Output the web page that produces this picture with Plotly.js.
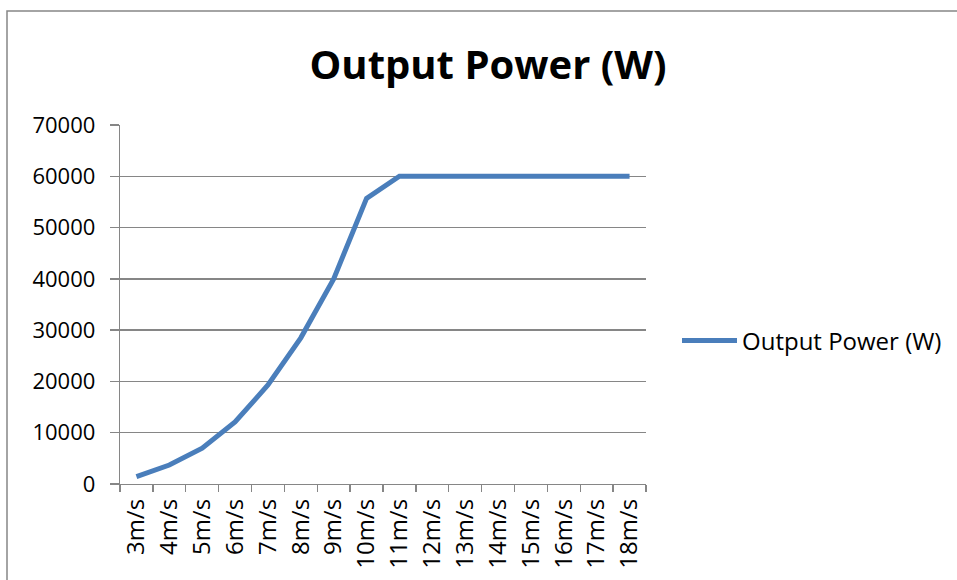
<!DOCTYPE html>
<html>
<head>
<meta charset="utf-8">
<script src="https://cdn.plot.ly/plotly-3.0.1.min.js"></script>
<style>html,body{margin:0;padding:0;background:#fff;}#chart{width:957px;height:580px;}</style>
</head>
<body>
<div id="chart"></div>
<script>
var categories = ["3m/s","4m/s","5m/s","6m/s","7m/s","8m/s","9m/s","10m/s","11m/s","12m/s","13m/s","14m/s","15m/s","16m/s","17m/s","18m/s"];
var outputPower = [1450, 3700, 7000, 12100, 19300, 28500, 40000, 55700, 60000, 60000, 60000, 60000, 60000, 60000, 60000, 60000];
var seriesName = "Output Power (W)";
var yTicks = [0, 10000, 20000, 30000, 40000, 50000, 60000, 70000];

var W = 957, H = 580;
var mL = 120, mR = 311, mT = 125, mB = 96;
var pw = W - mL - mR, ph = H - mT - mB;
function px(x){ return (x - mL) / pw; }
function py(y){ return (H - mB - y) / ph; }

var font = "Open Sans, Noto Sans, sans-serif";
var grid = "#868686";

var trace = {
  x: categories, y: outputPower, type: "scatter", mode: "lines",
  name: seriesName,
  line: {color: "#4a7ebb", width: 5}
};

var layout = {
  width: W, height: H,
  margin: {l: mL, r: mR, t: mT, b: mB, pad: 0, autoexpand: false},
  paper_bgcolor: "#ffffff", plot_bgcolor: "#ffffff",
  font: {family: font, size: 22, color: "#000000"},
  title: {text: "<b>" + seriesName + "</b>", font: {family: font, size: 40, color: "#000"},
          x: 488 / W, xanchor: "center", xref: "container",
          y: 1 - 65 / H, yanchor: "middle", yref: "container"},
  showlegend: true,
  legend: {x: px(677), y: py(341), xanchor: "left", yanchor: "middle",
           font: {family: font, size: 24, color: "#000"}, bgcolor: "rgba(0,0,0,0)", itemwidth: 55},
  xaxis: {
    type: "category", tickvals: categories, ticktext: categories,
    tickangle: -90, ticks: "outside", tickson: "boundaries", ticklen: 7, tickcolor: grid, tickwidth: 1.3,
    showline: true, linecolor: grid, linewidth: 1.3, showgrid: false, zeroline: false,
    ticklabelstandoff: 4,
    tickfont: {family: font, size: 24, color: "#000"}, range: [-0.5, 15.5]
  },
  yaxis: {
    range: [0, 70000], tickvals: yTicks, ticktext: yTicks.map(String),
    ticks: "outside", ticklen: 9, tickcolor: grid, tickwidth: 1.3,
    showline: true, linecolor: grid, linewidth: 1.3,
    showgrid: true, gridcolor: grid, gridwidth: 1.3, zeroline: false,
    ticklabelstandoff: 10,
    tickfont: {family: font, size: 22, color: "#000"}
  },
  shapes: [{
    type: "rect", xref: "paper", yref: "paper",
    x0: px(7), x1: px(W + 20), y0: py(H + 20), y1: py(11),
    line: {color: "#868686", width: 1.5}, fillcolor: "rgba(0,0,0,0)", layer: "below"
  }]
};

Plotly.newPlot("chart", [trace], layout, {displayModeBar: false, staticPlot: true});
</script>
</body>
</html>
